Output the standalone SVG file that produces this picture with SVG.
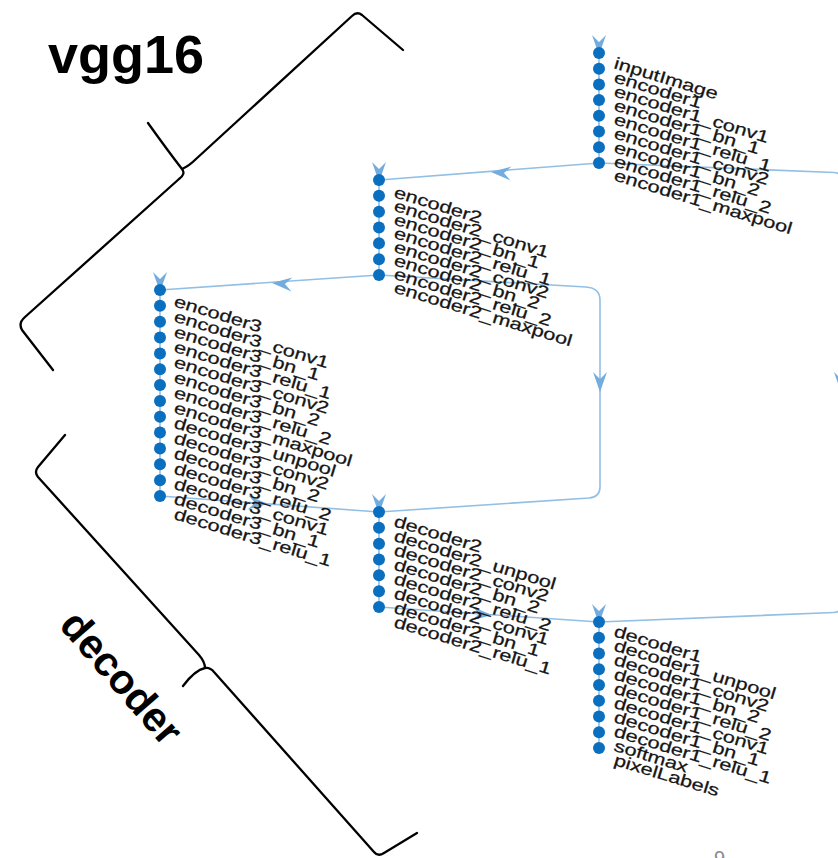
<svg xmlns="http://www.w3.org/2000/svg" width="838" height="858" viewBox="0 0 838 858">
<style>
.edge{fill:none;stroke:#92bfe4;stroke-width:1.6}
.spine{stroke:#92bfe4;stroke-width:1.6}
.dot{fill:#0b6fbf}
.arr{fill:#74addd}
.lbl{font-family:"Liberation Sans",Arial,sans-serif;font-size:16.5px;fill:#151515;stroke:#151515;stroke-width:0.25}
.brace{fill:none;stroke:#000;stroke-width:2.3;stroke-linecap:round;stroke-linejoin:round}
.big{font-family:"Liberation Sans",Arial,sans-serif;font-weight:bold;fill:#000}
</style>
<defs>
<path id="ah" d="M0,0 L-20,-7 L-13,0 L-20,7 Z"/>
</defs>
<rect width="838" height="858" fill="#fff"/>

<g id="connectors">
<path class="edge" d="M599,163 L379,180"/>
<path class="edge" d="M379,275 L160,290"/>
<path class="edge" d="M379,275 L586,287 Q600,288 600,300 L600,487 Q600,497 589,498 L379,512"/>
<path class="edge" d="M160,496 L379,512"/>
<path class="edge" d="M379,607 L599,622"/>
<path class="edge" d="M599,163 L834,172.5 Q842,173 842,182 L842,603 Q842,612 834,612.5 L599,622"/>
<use href="#ah" class="arr" transform="translate(491,172) rotate(184.4)"/>
<use href="#ah" class="arr" transform="translate(272,283) rotate(184)"/>
<use href="#ah" class="arr" transform="translate(600,392) rotate(90)"/>
<use href="#ah" class="arr" transform="translate(841,392) rotate(90)"/>
<use href="#ah" class="arr" transform="translate(268,504) rotate(4.2)"/>
<use href="#ah" class="arr" transform="translate(492,615) rotate(3.9)"/>
</g>

<g id="encoder1-block">
<line class="spine" x1="599" y1="53" x2="599" y2="163"/>
<use href="#ah" class="arr" transform="translate(599,55) rotate(90)"/>
<g class="dot"><circle cx="599" cy="53" r="6"/><circle cx="599" cy="68.7" r="6"/><circle cx="599" cy="84.4" r="6"/><circle cx="599" cy="100.1" r="6"/><circle cx="599" cy="115.8" r="6"/><circle cx="599" cy="131.5" r="6"/><circle cx="599" cy="147.2" r="6"/><circle cx="599" cy="163" r="6"/></g>
<g class="lbl">
<text transform="translate(613,68) rotate(17) scale(1.32,1)">inputImage</text>
<text transform="translate(613,82) rotate(17) scale(1.32,1)">encoder1</text>
<text transform="translate(613,96) rotate(17) scale(1.32,1)">encoder1_conv1</text>
<text transform="translate(613,110) rotate(17) scale(1.32,1)">encoder1_bn_1</text>
<text transform="translate(613,124) rotate(17) scale(1.32,1)">encoder1_relu_1</text>
<text transform="translate(613,138) rotate(17) scale(1.32,1)">encoder1_conv2</text>
<text transform="translate(613,152) rotate(17) scale(1.32,1)">encoder1_bn_2</text>
<text transform="translate(613,166) rotate(17) scale(1.32,1)">encoder1_relu_2</text>
<text transform="translate(613,180) rotate(17) scale(1.32,1)">encoder1_maxpool</text>
</g>
</g>

<g id="encoder2-block">
<line class="spine" x1="379" y1="180" x2="379" y2="275"/>
<use href="#ah" class="arr" transform="translate(379,182) rotate(90)"/>
<g class="dot"><circle cx="379" cy="180" r="6"/><circle cx="379" cy="195.8" r="6"/><circle cx="379" cy="211.7" r="6"/><circle cx="379" cy="227.5" r="6"/><circle cx="379" cy="243.3" r="6"/><circle cx="379" cy="259.2" r="6"/><circle cx="379" cy="275" r="6"/></g>
<g class="lbl">
<text transform="translate(393,197) rotate(17) scale(1.32,1)">encoder2</text>
<text transform="translate(393,210.6) rotate(17) scale(1.32,1)">encoder2_conv1</text>
<text transform="translate(393,224.2) rotate(17) scale(1.32,1)">encoder2_bn_1</text>
<text transform="translate(393,237.8) rotate(17) scale(1.32,1)">encoder2_relu_1</text>
<text transform="translate(393,251.4) rotate(17) scale(1.32,1)">encoder2_conv2</text>
<text transform="translate(393,265) rotate(17) scale(1.32,1)">encoder2_bn_2</text>
<text transform="translate(393,278.6) rotate(17) scale(1.32,1)">encoder2_relu_2</text>
<text transform="translate(393,292.2) rotate(17) scale(1.32,1)">encoder2_maxpool</text>
</g>
</g>

<g id="encoder3-decoder3-block">
<line class="spine" x1="160" y1="290" x2="160" y2="496"/>
<use href="#ah" class="arr" transform="translate(160,292) rotate(90)"/>
<g class="dot"><circle cx="160" cy="290" r="6"/><circle cx="160" cy="305.8" r="6"/><circle cx="160" cy="321.7" r="6"/><circle cx="160" cy="337.5" r="6"/><circle cx="160" cy="353.4" r="6"/><circle cx="160" cy="369.2" r="6"/><circle cx="160" cy="385.1" r="6"/><circle cx="160" cy="400.9" r="6"/><circle cx="160" cy="416.8" r="6"/><circle cx="160" cy="432.6" r="6"/><circle cx="160" cy="448.5" r="6"/><circle cx="160" cy="464.3" r="6"/><circle cx="160" cy="480.2" r="6"/><circle cx="160" cy="496" r="6"/></g>
<g class="lbl">
<text transform="translate(173,306) rotate(17) scale(1.32,1)">encoder3</text>
<text transform="translate(173,321.2) rotate(17) scale(1.32,1)">encoder3_conv1</text>
<text transform="translate(173,336.4) rotate(17) scale(1.32,1)">encoder3_bn_1</text>
<text transform="translate(173,351.6) rotate(17) scale(1.32,1)">encoder3_relu_1</text>
<text transform="translate(173,366.8) rotate(17) scale(1.32,1)">encoder3_conv2</text>
<text transform="translate(173,382) rotate(17) scale(1.32,1)">encoder3_bn_2</text>
<text transform="translate(173,397.2) rotate(17) scale(1.32,1)">encoder3_relu_2</text>
<text transform="translate(173,412.4) rotate(17) scale(1.32,1)">encoder3_maxpool</text>
<text transform="translate(173,427.6) rotate(17) scale(1.32,1)">decoder3_unpool</text>
<text transform="translate(173,442.8) rotate(17) scale(1.32,1)">decoder3_conv2</text>
<text transform="translate(173,458) rotate(17) scale(1.32,1)">decoder3_bn_2</text>
<text transform="translate(173,473.2) rotate(17) scale(1.32,1)">decoder3_relu_2</text>
<text transform="translate(173,488.4) rotate(17) scale(1.32,1)">decoder3_conv1</text>
<text transform="translate(173,503.6) rotate(17) scale(1.32,1)">decoder3_bn_1</text>
<text transform="translate(173,518.8) rotate(17) scale(1.32,1)">decoder3_relu_1</text>
</g>
</g>

<g id="decoder2-block">
<line class="spine" x1="379" y1="512" x2="379" y2="607"/>
<use href="#ah" class="arr" transform="translate(379,514) rotate(90)"/>
<g class="dot"><circle cx="379" cy="512" r="6"/><circle cx="379" cy="527.8" r="6"/><circle cx="379" cy="543.7" r="6"/><circle cx="379" cy="559.5" r="6"/><circle cx="379" cy="575.3" r="6"/><circle cx="379" cy="591.2" r="6"/><circle cx="379" cy="607" r="6"/></g>
<g class="lbl">
<text transform="translate(393,526) rotate(17) scale(1.32,1)">decoder2</text>
<text transform="translate(393,540.4) rotate(17) scale(1.32,1)">decoder2_unpool</text>
<text transform="translate(393,554.8) rotate(17) scale(1.32,1)">decoder2_conv2</text>
<text transform="translate(393,569.2) rotate(17) scale(1.32,1)">decoder2_bn_2</text>
<text transform="translate(393,583.6) rotate(17) scale(1.32,1)">decoder2_relu_2</text>
<text transform="translate(393,598) rotate(17) scale(1.32,1)">decoder2_conv1</text>
<text transform="translate(393,612.4) rotate(17) scale(1.32,1)">decoder2_bn_1</text>
<text transform="translate(393,626.8) rotate(17) scale(1.32,1)">decoder2_relu_1</text>
</g>
</g>

<g id="decoder1-block">
<line class="spine" x1="599" y1="622" x2="599" y2="748"/>
<use href="#ah" class="arr" transform="translate(599,624) rotate(90)"/>
<g class="dot"><circle cx="599" cy="622" r="6"/><circle cx="599" cy="637.75" r="6"/><circle cx="599" cy="653.5" r="6"/><circle cx="599" cy="669.25" r="6"/><circle cx="599" cy="685" r="6"/><circle cx="599" cy="700.75" r="6"/><circle cx="599" cy="716.5" r="6"/><circle cx="599" cy="732.25" r="6"/><circle cx="599" cy="748" r="6"/></g>
<g class="lbl">
<text transform="translate(613,636) rotate(17) scale(1.32,1)">decoder1</text>
<text transform="translate(613,650.3) rotate(17) scale(1.32,1)">decoder1_unpool</text>
<text transform="translate(613,664.6) rotate(17) scale(1.32,1)">decoder1_conv2</text>
<text transform="translate(613,678.9) rotate(17) scale(1.32,1)">decoder1_bn_2</text>
<text transform="translate(613,693.2) rotate(17) scale(1.32,1)">decoder1_relu_2</text>
<text transform="translate(613,707.5) rotate(17) scale(1.32,1)">decoder1_conv1</text>
<text transform="translate(613,721.8) rotate(17) scale(1.32,1)">decoder1_bn_1</text>
<text transform="translate(613,736.1) rotate(17) scale(1.32,1)">decoder1_relu_1</text>
<text transform="translate(613,750.4) rotate(17) scale(1.32,1)">softmax</text>
<text transform="translate(613,764.7) rotate(17) scale(1.32,1)">pixelLabels</text>
</g>
</g>

<g id="vgg16-brace">
<path class="brace" d="M403,50 L362,15 Q357,11 352,16 L196,159 Q189,166 182,169 M148,123 Q168,151 182,169 Q186,174 179,179 L25,317 Q18,323 22,330 L53,370"/>
<text class="big" x="48" y="73" font-size="54">vgg16</text>
</g>

<g id="decoder-brace">
<path class="brace" d="M65,435 L38,467 Q34,472 38,477 L199,655 Q205,662 205,668 M183,686 Q195,670 205,668 Q210,667 214,672 L374,852 Q378,857 384,853 L417,833"/>
<text class="big" font-size="41.5" text-anchor="middle" transform="translate(111,687) rotate(49)">decoder</text>
</g>

<text x="714" y="865" font-family="Liberation Sans,Arial,sans-serif" font-size="20" fill="#8a8a8a">9</text>
</svg>
